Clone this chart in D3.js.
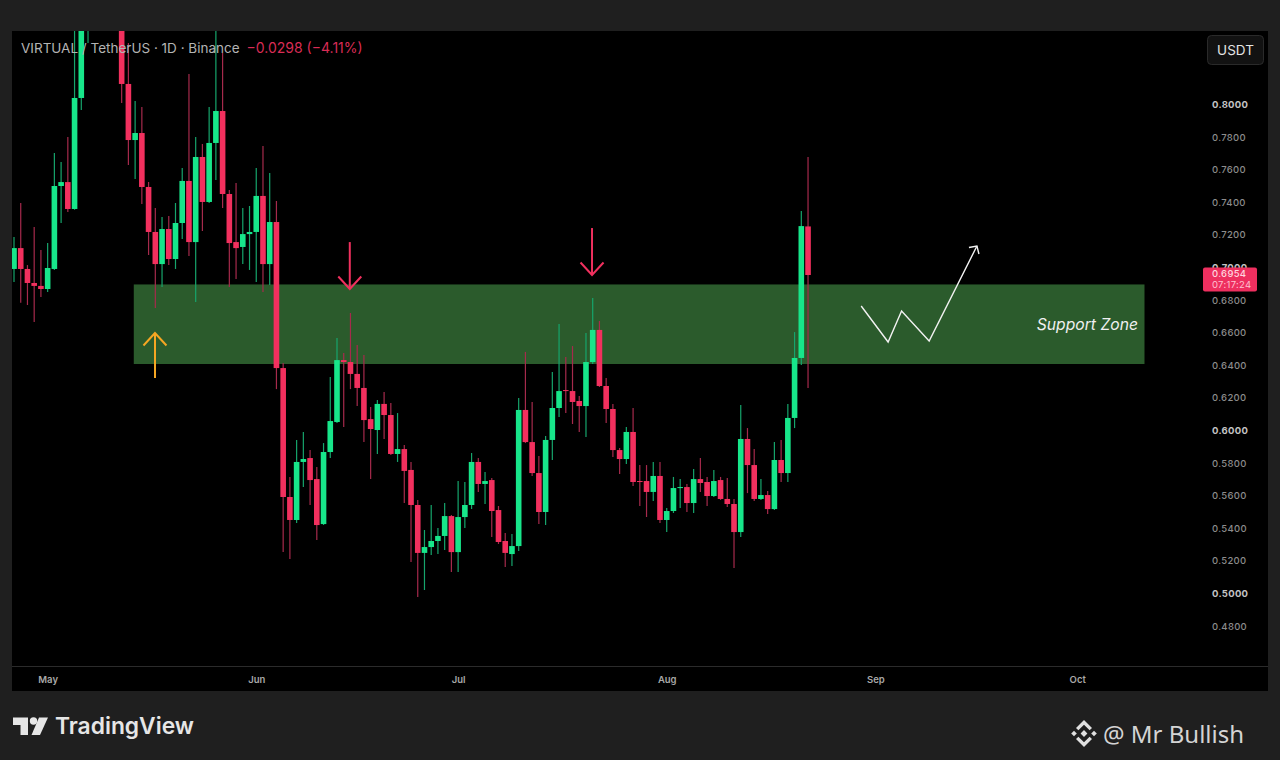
<!DOCTYPE html>
<html>
<head>
<meta charset="utf-8">
<title>VIRTUAL / TetherUS</title>
<script src="https://cdn.jsdelivr.net/npm/d3@7"></script>
<style>
  html, body { margin: 0; padding: 0; background: #1f1f1f; }
  svg { display: block; font-family: Inter, "Liberation Sans", sans-serif; }
</style>
</head>
<body>
<div id="chart"></div>
<script>
//data. days count from the first candle (Apr 26)
var firstDay = '2025-04-26';
var opens = [.6991,.7119,.6991,.6905,.6887,.6868,.6991,.7500,.7524,.7359,.8040,.8600,.8950,.9100,.8850,.8800,.8700,.8126,.7782,.7825,.7494,.7218,.7021,.7236,.7052,.7273,.7531,.7156,.7678,.7402,
  .7764,.7960,.7451,.7156,.7126,.7205,.7218,.7439,.7021,.7279,.6383,.5592,.5451,.5807,.5831,.5702,.5426,.5868,.6052,.6432,
  .6420,.6347,.6261,.6070,.6003,.6163,.6095,.5856,.5886,.5758,.5543,.5249,.5285,.5322,.5353,.5475,.5254,.5469,.5543,.5807,
  .5672,.5696,.5512,.5322,.5242,.5291,.6126,.5929,.5739,.5500,.5942,.6138,.6248,.6242,.6181,.6150,.6420,.6617,.6273,.6132,
  .5880,.5825,.5991,.5690,.5690,.5623,.5721,.5451,.5506,.5647,.5653,.5555,.5702,.5684,.5598,.5696,.5580,.5549,.5377,.5948,
  .5788,.5580,.5604,.5518,.5819,.5739,.6077,.6445,.7252];
var highs = [.7187,.7396,.7015,.7248,.7107,.7151,.7703,.7647,.7800,.8800,.8800,.9100,.9300,.9250,.9200,.9000,.8800,.8377,.8021,.7985,.7524,.7365,.7310,.7316,.7396,.7610,.8187,.7800,.7757,.7985,
  .8500,.8316,.7475,.7518,.7365,.7377,.7610,.7745,.7580,.7408,.6414,.5715,.5942,.5991,.5880,.5776,.5923,.6328,.6567,.6475,
  .6721,.6524,.6463,.6144,.6187,.6236,.6169,.6107,.5911,.5807,.5574,.5389,.5543,.5402,.5555,.5481,.5690,.5684,.5862,.5831,
  .5745,.5708,.5537,.5371,.5365,.6199,.6482,.6175,.5843,.5966,.6359,.6653,.6451,.6518,.6212,.6598,.6813,.6672,.6322,.6163,
  .5893,.6021,.6138,.5788,.5788,.5807,.5807,.5524,.5715,.5702,.5672,.5764,.5831,.5715,.5758,.5715,.5708,.5580,.6156,.6015,
  .5886,.5702,.5629,.5929,.5942,.6163,.6604,.7346,.7678];
var lows = [.6911,.6783,.6770,.6666,.6819,.6850,.6985,.7273,.7340,.7355,.7966,.8377,.8700,.8750,.8700,.8560,.8009,.7629,.7543,.7389,.7077,.6751,.6880,.7015,.6991,.7175,.7071,.6788,.7224,.7396,
  .7537,.7365,.6880,.6929,.7021,.6985,.6911,.6850,.6892,.6254,.5254,.5211,.5432,.5653,.5543,.5328,.5420,.5831,.6046,.6021,
  .6254,.6150,.5929,.5702,.5856,.5948,.5850,.5807,.5555,.5193,.4978,.5021,.5236,.5242,.5267,.5132,.5132,.5402,.5518,.5623,
  .5549,.5346,.5304,.5162,.5169,.5261,.5923,.5721,.5426,.5420,.5819,.6083,.6107,.6040,.5991,.5960,.6408,.6267,.6046,.5837,
  .5733,.5794,.5659,.5537,.5469,.5567,.5432,.5377,.5494,.5524,.5500,.5494,.5623,.5537,.5592,.5574,.5530,.5156,.5346,.5616,
  .5567,.5574,.5488,.5512,.5684,.5684,.6015,.6402,.6260];
var closes = [.7119,.6991,.6905,.6887,.6868,.6997,.7500,.7524,.7359,.8040,.8600,.8950,.9100,.8850,.8800,.8700,.8126,.7782,.7825,.7494,.7218,.7021,.7236,.7052,.7273,.7531,.7156,.7678,.7402,.7764,
  .7960,.7451,.7150,.7119,.7205,.7218,.7439,.7021,.7279,.6383,.5592,.5451,.5807,.5825,.5696,.5420,.5868,.6058,.6432,.6420,
  .6347,.6261,.6064,.6009,.6163,.6095,.5856,.5886,.5752,.5543,.5249,.5285,.5322,.5353,.5475,.5254,.5469,.5543,.5807,.5672,
  .5690,.5506,.5316,.5249,.5291,.6126,.5929,.5739,.5500,.5942,.6138,.6242,.6242,.6175,.6150,.6420,.6617,.6273,.6132,.5880,
  .5825,.5991,.5684,.5684,.5623,.5721,.5451,.5506,.5647,.5653,.5555,.5702,.5678,.5598,.5690,.5580,.5549,.5377,.5948,.5788,
  .5580,.5604,.5518,.5819,.5739,.6077,.6445,.7254,.6954];

var priceTicks = [.48,.50,.52,.54,.56,.58,.60,.62,.64,.66,.68,.70,.72,.74,.76,.78,.80];
var boldTicks = [.50,.60,.70,.80];
var monthTicks = ['2025-05-01','2025-06-01','2025-07-01','2025-08-01','2025-09-01','2025-10-01'];

//support zone and drawings, in days and prices
var zoneDays = [17.8, 168];
var zonePrices = [.6896, .6408];
var pathDays = [125.9, 129.9, 131.9, 136, 143.1];
var pathPrices = [.6764, .6543, .6733, .6549, .7132];
var arrowDays = [49.9, 85.9, 20.95];
var arrowTips = [.6868, .6954, .6598];
var arrowTails = [.7156, .7242, .6322];
var arrowColors = ['#f0305e', '#f0305e', '#f5a623'];

//layout
var width = 1280, height = 760;
var frame = {left: 12, right: 1268, top: 31, bottom: 691};
var axisY = 666.5;
var green = '#17e68a', red = '#f2305e';
var greenWick = '#16a56c', redWick = '#a62a4c';

var parse = d3.utcParse('%Y-%m-%d');
var dayMs = 86400000;
var start = parse(firstDay);
function dayDate(i) { return new Date(+start + i * dayMs); }

var x = d3.scaleUtc().domain([start, parse('2025-10-01')]).range([14, 1077.2]);
var y = d3.scaleLinear().domain([.8, .5]).range([104.5, 593.5]);

var svg = d3.select('#chart').append('svg').attr('width', width).attr('height', height);

svg.append('rect').attr('width', width).attr('height', height).attr('fill', '#1f1f1f');
svg.append('rect')
  .attr('x', frame.left).attr('y', frame.top)
  .attr('width', frame.right - frame.left).attr('height', frame.bottom - frame.top)
  .attr('fill', '#000');

svg.append('clipPath').attr('id', 'plot').append('rect')
  .attr('x', frame.left).attr('y', frame.top)
  .attr('width', 1190).attr('height', axisY - frame.top);

var plot = svg.append('g').attr('clip-path', 'url(#plot)');

var bars = d3.range(opens.length);
function up(i) { return closes[i] >= opens[i]; }

plot.append('rect')
  .attr('x', x(dayDate(zoneDays[0])))
  .attr('y', y(zonePrices[0]))
  .attr('width', x(dayDate(zoneDays[1])) - x(dayDate(zoneDays[0])))
  .attr('height', y(zonePrices[1]) - y(zonePrices[0]))
  .attr('fill', '#2b5b2c');

plot.selectAll('.wick').data(bars).enter().append('line')
  .attr('class', 'wick')
  .attr('x1', function(i) { return x(dayDate(i)); })
  .attr('x2', function(i) { return x(dayDate(i)); })
  .attr('y1', function(i) { return y(highs[i]); })
  .attr('y2', function(i) { return y(lows[i]); })
  .attr('stroke', function(i) { return up(i) ? greenWick : redWick; })
  .attr('stroke-width', 1.2);

plot.selectAll('.body').data(bars).enter().append('rect')
  .attr('class', 'body')
  .attr('x', function(i) { return x(dayDate(i)) - 2.8; })
  .attr('width', 5.6)
  .attr('y', function(i) { return y(Math.max(opens[i], closes[i])); })
  .attr('height', function(i) { return Math.max(1, Math.abs(y(opens[i]) - y(closes[i]))); })
  .attr('fill', function(i) { return up(i) ? green : red; });

//hand drawn zig zag
var line = d3.line()
  .x(function(d) { return x(dayDate(d[0])); })
  .y(function(d) { return y(d[1]); });
svg.append('path')
  .attr('d', line(d3.zip(pathDays, pathPrices)))
  .attr('fill', 'none').attr('stroke', '#f2f2f2').attr('stroke-width', 1.4);
var tipX = x(dayDate(pathDays[4])), tipY = y(pathPrices[4]);
svg.append('path')
  .attr('d', 'M' + (tipX - 8) + ',' + (tipY + 1.5) + 'L' + tipX + ',' + tipY + 'L' + (tipX + 2) + ',' + (tipY + 8))
  .attr('fill', 'none').attr('stroke', '#f2f2f2').attr('stroke-width', 1.4);

//hand drawn arrows
arrowDays.forEach(function(d, k) {
  var ax = x(dayDate(d)), tip = y(arrowTips[k]), tail = y(arrowTails[k]);
  var dir = tail < tip ? -1 : 1;
  var g = svg.append('g').attr('fill', 'none').attr('stroke', arrowColors[k]).attr('stroke-width', 2);
  g.append('line').attr('x1', ax).attr('x2', ax).attr('y1', tail).attr('y2', tip);
  g.append('path').attr('d', 'M' + (ax - 11.5) + ',' + (tip + dir * 12.5) + 'L' + ax + ',' + tip + 'L' + (ax + 11.5) + ',' + (tip + dir * 12.5));
});

svg.append('text')
  .attr('x', 1138).attr('y', 330)
  .attr('text-anchor', 'end')
  .attr('fill', '#f0f0f0')
  .attr('font-size', 15.7)
  .attr('font-style', 'italic')
  .text('Support Zone');

//axes
svg.append('line')
  .attr('x1', frame.left).attr('x2', frame.right)
  .attr('y1', axisY).attr('y2', axisY)
  .attr('stroke', '#2b2b2b').attr('stroke-width', 1.2);

var xAxis = d3.axisBottom(x)
  .tickValues(monthTicks.map(function(d) { return parse(d); }))
  .tickFormat(d3.utcFormat('%b'))
  .tickSize(0).tickPadding(10);
var gx = svg.append('g').attr('transform', 'translate(0,' + axisY + ')').call(xAxis);
gx.select('.domain').remove();
gx.selectAll('text')
  .attr('fill', '#a8a8a8').attr('font-size', 9.5).attr('font-weight', 600)
  .attr('font-family', 'Inter, sans-serif');

var yAxis = d3.axisRight(y)
  .tickValues(priceTicks)
  .tickFormat(d3.format('.4f'))
  .tickSize(0).tickPadding(0);
var gy = svg.append('g').attr('transform', 'translate(1212,0)').call(yAxis);
gy.select('.domain').remove();
gy.selectAll('text')
  .attr('font-size', 9.5).attr('letter-spacing', .3)
  .attr('font-family', 'Inter, sans-serif')
  .attr('fill', function(d) { return boldTicks.indexOf(d) >= 0 ? '#c4c4c4' : '#8c8c8c'; })
  .attr('font-weight', function(d) { return boldTicks.indexOf(d) >= 0 ? 700 : 500; });

//last price tag
var lastY = y(closes[closes.length - 1]);
svg.append('rect')
  .attr('x', 1203).attr('y', lastY - 7.5).attr('width', 54).attr('height', 24).attr('rx', 2)
  .attr('fill', '#ee2f5f');
svg.append('text').attr('x', 1212).attr('y', lastY + 2.5)
  .attr('fill', '#ffd5df').attr('font-size', 9.5).attr('letter-spacing', .3).attr('font-weight', 500)
  .text(d3.format('.4f')(closes[closes.length - 1]));
svg.append('text').attr('x', 1212).attr('y', lastY + 13)
  .attr('fill', '#ffc0d0').attr('font-size', 9.5).attr('letter-spacing', .3)
  .text('07:17:24');

//USDT button
svg.append('rect')
  .attr('x', 1207.5).attr('y', 35.5).attr('width', 56).attr('height', 29).attr('rx', 4)
  .attr('fill', '#121212').attr('stroke', '#2a2a2a');
svg.append('text').attr('x', 1235.5).attr('y', 54.5).attr('text-anchor', 'middle')
  .attr('fill', '#e4e4e4').attr('font-size', 13.5).text('USDT');

//header
var title = svg.append('text').attr('x', 21).attr('y', 53).attr('font-size', 13.5);
title.append('tspan').attr('fill', '#b4b4b4').text('VIRTUAL / TetherUS · 1D · Binance');
title.append('tspan').attr('fill', '#d92c55').attr('dx', 7).attr('font-size', 14).text('−0.0298 (−4.11%)');

//TradingView logo
var logo = svg.append('g').attr('fill', '#e6e6e6');
logo.append('path').attr('d', 'M13,717.5H28V735H20.5V725H13Z');
logo.append('circle').attr('cx', 33.5).attr('cy', 721).attr('r', 3.7);
logo.append('path').attr('d', 'M39,717.5H48L40,735H31.5Z');
svg.append('text').attr('x', 55).attr('y', 733.5)
  .attr('fill', '#e6e6e6').attr('font-size', 22.8).attr('font-weight', 600)
  .attr('font-family', 'Inter, sans-serif')
  .text('TradingView');

//binance mark + watermark
var mark = svg.append('g').attr('fill', '#e0e0e0').attr('transform', 'translate(1084,733.5)');
[[0,0,3.4],[-10,0,2.8],[10,0,2.8]].forEach(function(d) {
  mark.append('path').attr('d', 'M' + (d[0]-d[2]) + ',' + d[1] + 'L' + d[0] + ',' + (d[1]-d[2]) + 'L' + (d[0]+d[2]) + ',' + d[1] + 'L' + d[0] + ',' + (d[1]+d[2]) + 'Z');
});
mark.append('path').attr('d', 'M0,-13.5L8,-5.5L5.6,-3.2L0,-8.8L-5.6,-3.2L-8,-5.5Z');
mark.append('path').attr('d', 'M0,13.5L8,5.5L5.6,3.2L0,8.8L-5.6,3.2L-8,5.5Z');
svg.append('text').attr('x', 1103).attr('y', 743)
  .attr('fill', '#d4d4d4').attr('font-size', 24)
  .attr('font-family', '"Noto Sans", sans-serif')
  .text('@ Mr Bullish');
</script>
</body>
</html>
